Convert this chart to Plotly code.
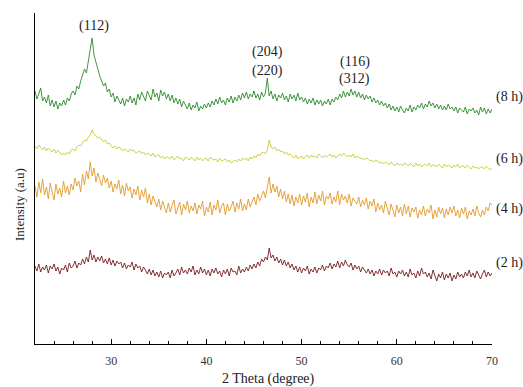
import numpy as np
import plotly.graph_objects as go

# 2-theta scan: start, step (degrees)
theta_start = 22.0
theta_step = 0.2

# Intensities (a.u., stacked offsets as in the figure), 5 points per degree
i_8h = [253, 245, 250, 256, 243, 247, 241, 249, 238, 244, 237, 243, 235, 241, 238,
        244, 239, 246, 243, 250, 253, 249, 258, 255, 263, 268, 275, 271, 282, 291,
        306, 289, 281, 275, 268, 263, 258, 261, 252, 255, 247, 251, 242, 248, 244,
        240, 246, 238, 245, 242, 248, 241, 246, 239, 250, 244, 252, 247, 243, 253,
        249, 244, 255, 247, 251, 243, 254, 248, 252, 245, 250, 243, 249, 241, 246,
        240, 245, 237, 243, 239, 235, 241, 234, 239, 236, 242, 233, 238, 235, 240,
        236, 241, 237, 243, 239, 245, 240, 247, 241, 244, 239, 246, 242, 248, 241,
        247, 243, 249, 244, 251, 246, 252, 245, 250, 247, 253, 246, 250, 244, 252,
        247, 251, 266, 248, 253, 245, 250, 243, 249, 246, 251, 244, 248, 242, 250,
        245, 249, 243, 251, 244, 247, 242, 246, 240, 245, 241, 246, 239, 244, 240,
        244, 238, 243, 240, 245, 239, 245, 242, 247, 244, 250, 246, 253, 247, 252,
        248, 255, 249, 253, 247, 252, 246, 250, 244, 249, 245, 248, 242, 246, 241,
        244, 239, 243, 238, 241, 236, 240, 234, 238, 233, 237, 232, 238, 234, 231,
        236, 233, 239, 232, 237, 234, 239, 236, 241, 235, 240, 237, 243, 238, 241,
        236, 240, 235, 239, 234, 238, 234, 240, 235, 237, 233, 237, 231, 236, 234,
        232, 237, 230, 235, 233, 236, 231, 234, 229, 237, 232, 236, 230, 235, 231,
        235]

i_6h = [198, 195, 199, 196, 194, 197, 193, 196, 194, 192, 195, 191, 194, 192, 189,
        191, 189, 192, 190, 194, 195, 193, 197, 199, 198, 201, 204, 203, 207, 209,
        214, 210, 208, 206, 207, 205, 202, 204, 200, 201, 199, 196, 198, 195, 197,
        196, 193, 195, 194, 192, 195, 193, 194, 191, 192, 193, 190, 192, 189, 191,
        190, 188, 191, 187, 189, 189, 186, 188, 185, 187, 187, 185, 188, 184, 186,
        188, 185, 186, 183, 187, 186, 184, 187, 185, 183, 187, 184, 186, 183, 185,
        186, 183, 187, 185, 184, 185, 182, 186, 183, 184, 185, 182, 184, 181, 183,
        184, 182, 185, 183, 186, 184, 186, 183, 187, 185, 188, 186, 190, 188, 191,
        192, 190, 194, 204, 197, 195, 197, 193, 195, 192, 193, 190, 192, 189, 190,
        188, 186, 189, 185, 187, 188, 185, 187, 189, 186, 189, 187, 188, 186, 190,
        188, 186, 189, 187, 188, 190, 187, 189, 186, 188, 190, 188, 191, 189, 187,
        189, 187, 190, 186, 188, 187, 185, 186, 184, 186, 185, 183, 184, 182, 184,
        183, 181, 182, 180, 182, 181, 179, 182, 180, 178, 181, 179, 180, 178, 181,
        180, 178, 181, 179, 177, 181, 178, 180, 177, 179, 180, 178, 181, 177, 179,
        179, 177, 180, 178, 176, 180, 177, 179, 178, 176, 179, 177, 180, 176, 178,
        178, 176, 179, 177, 175, 178, 176, 177, 175, 177, 177, 175, 178, 176, 174,
        176]

i_4h = [158, 147, 162, 151, 165, 149, 157, 145, 161, 152, 144, 160, 150, 156, 147,
        163, 151, 158, 149, 160, 154, 166, 158, 163, 152, 170, 159, 173, 165, 182,
        168, 176, 162, 171, 165, 158, 169, 161, 166, 156, 163, 152, 160, 155, 164,
        150, 159, 148, 161, 153, 157, 146, 155, 149, 158, 144, 154, 147, 156, 141,
        150, 139, 148, 143, 137, 145, 134, 143, 138, 131, 141, 132, 139, 144, 130,
        136, 142, 129, 140, 134, 143, 131, 138, 133, 141, 130, 139, 135, 143, 128,
        137, 132, 142, 129, 139, 134, 144, 131, 138, 141, 129, 140, 133, 137, 143,
        132, 141, 135, 145, 133, 140, 134, 145, 137, 142, 147, 139, 150, 143, 148,
        153, 146, 157, 167, 151, 160, 152, 158, 147, 155, 145, 153, 142, 150, 140,
        149, 138, 147, 141, 150, 139, 148, 142, 151, 137, 147, 141, 152, 140, 149,
        143, 153, 139, 148, 145, 151, 140, 147, 142, 153, 139, 150, 144, 148, 141,
        150, 138, 146, 143, 140, 147, 137, 144, 139, 146, 135, 143, 138, 145, 132,
        141, 134, 139, 131, 143, 136, 129, 140, 133, 127, 139, 131, 137, 128, 140,
        130, 138, 127, 136, 132, 137, 126, 134, 129, 138, 128, 135, 131, 139, 125,
        134, 127, 137, 130, 136, 126, 135, 129, 137, 131, 138, 128, 134, 126, 136,
        130, 137, 125, 133, 129, 135, 128, 138, 131, 127, 134, 129, 137, 133, 141,
        139]

i_2h = [78, 73, 80, 72, 77, 74, 79, 71, 78, 75, 80, 73, 77, 70, 76,
        74, 79, 72, 81, 76, 78, 83, 76, 81, 79, 85, 80, 87, 82, 94,
        84, 89, 82, 87, 83, 88, 81, 85, 80, 86, 79, 84, 78, 83, 80,
        82, 76, 81, 75, 79, 77, 82, 74, 80, 76, 78, 72, 77, 74, 70,
        75, 69, 74, 68, 72, 67, 73, 66, 71, 69, 72, 66, 74, 68, 71,
        75, 69, 77, 71, 74, 70, 76, 72, 78, 69, 74, 70, 77, 71, 75,
        69, 74, 68, 75, 71, 76, 70, 73, 67, 74, 70, 75, 68, 76, 72,
        73, 69, 78, 71, 75, 72, 77, 73, 79, 75, 80, 76, 82, 78, 85,
        82, 87, 84, 96, 86, 89, 83, 87, 81, 85, 79, 84, 78, 82, 76,
        80, 74, 78, 72, 77, 71, 76, 73, 78, 70, 75, 72, 77, 71, 76,
        74, 79, 73, 78, 76, 81, 75, 80, 77, 83, 76, 82, 78, 84, 79,
        77, 81, 74, 79, 75, 78, 72, 77, 74, 71, 75, 70, 74, 68, 73,
        70, 75, 69, 74, 71, 73, 68, 76, 70, 72, 67, 73, 70, 74, 68,
        72, 67, 75, 69, 71, 66, 73, 68, 76, 70, 72, 67, 71, 65, 74,
        68, 63, 70, 66, 72, 64, 70, 66, 71, 63, 69, 65, 72, 67, 70,
        66, 72, 68, 74, 67, 71, 66, 73, 69, 65, 70, 74, 67, 72, 68,
        71]

series = [
    ("(8 h)", i_8h, "#2b8a2b"),
    ("(6 h)", i_6h, "#c9c93a"),
    ("(4 h)", i_4h, "#e39a2a"),
    ("(2 h)", i_2h, "#751d22"),
]

# label vertical positions (same units as intensity)
label_y = [247, 185, 135, 81]

peak_labels = [
    (28.2, 318, "(112)"),
    (46.4, 292, "(204)"),
    (46.4, 273, "(220)"),
    (55.6, 282, "(116)"),
    (55.6, 265, "(312)"),
]

serif = "Liberation Serif"
fig = go.Figure()
for (name, vals, col) in series:
    x = theta_start + theta_step * np.arange(len(vals))
    fig.add_trace(go.Scatter(x=x, y=vals, mode="lines", name=name,
                             line=dict(color=col, width=0.9), showlegend=False))

for (name, vals, col), ly in zip(series, label_y):
    fig.add_annotation(x=1.0044, y=ly, xref="paper", yref="y", text=name, showarrow=False,
                       xanchor="left", yanchor="middle",
                       font=dict(family=serif, size=14, color="#222"))

for (px, py, t) in peak_labels:
    fig.add_annotation(x=px, y=py, xref="x", yref="y", text=t, showarrow=False,
                       xanchor="center", yanchor="middle",
                       font=dict(family=serif, size=14, color="#222"))

fig.add_annotation(x=0.51, y=-0.106, xref="paper", yref="paper", text="2 Theta (degree)",
                   showarrow=False, xanchor="center", yanchor="middle",
                   font=dict(family=serif, size=14, color="#222"))
fig.add_annotation(x=-0.0328, y=0.42, xref="paper", yref="paper", text="Intensity (a.u)",
                   textangle=-90, showarrow=False, xanchor="center", yanchor="middle",
                   font=dict(family=serif, size=13, color="#222"))

fig.update_layout(
    width=523, height=387,
    margin=dict(l=35, r=31, t=13, b=43),
    paper_bgcolor="white", plot_bgcolor="white",
    xaxis=dict(range=[22, 70], showgrid=False, zeroline=False,
               showline=True, linecolor="black", linewidth=1,
               tickmode="array", tickvals=[30, 40, 50, 60, 70],
               ticks="inside", ticklen=5, tickcolor="black",
               minor=dict(tickmode="array", tickvals=list(range(24, 70, 2)),
                          ticks="inside", ticklen=3, tickcolor="black"),
               tickfont=dict(family=serif, size=12, color="#333"),
               ticklabelstandoff=6),
    yaxis=dict(range=[0, 331], showgrid=False, zeroline=False,
               showline=True, linecolor="black", linewidth=1,
               showticklabels=False, ticks=""),
)

fig.write_html("out.html", config={"displayModeBar": False},
               post_script="document.body.style.margin='0';document.body.style.overflow='hidden';")
